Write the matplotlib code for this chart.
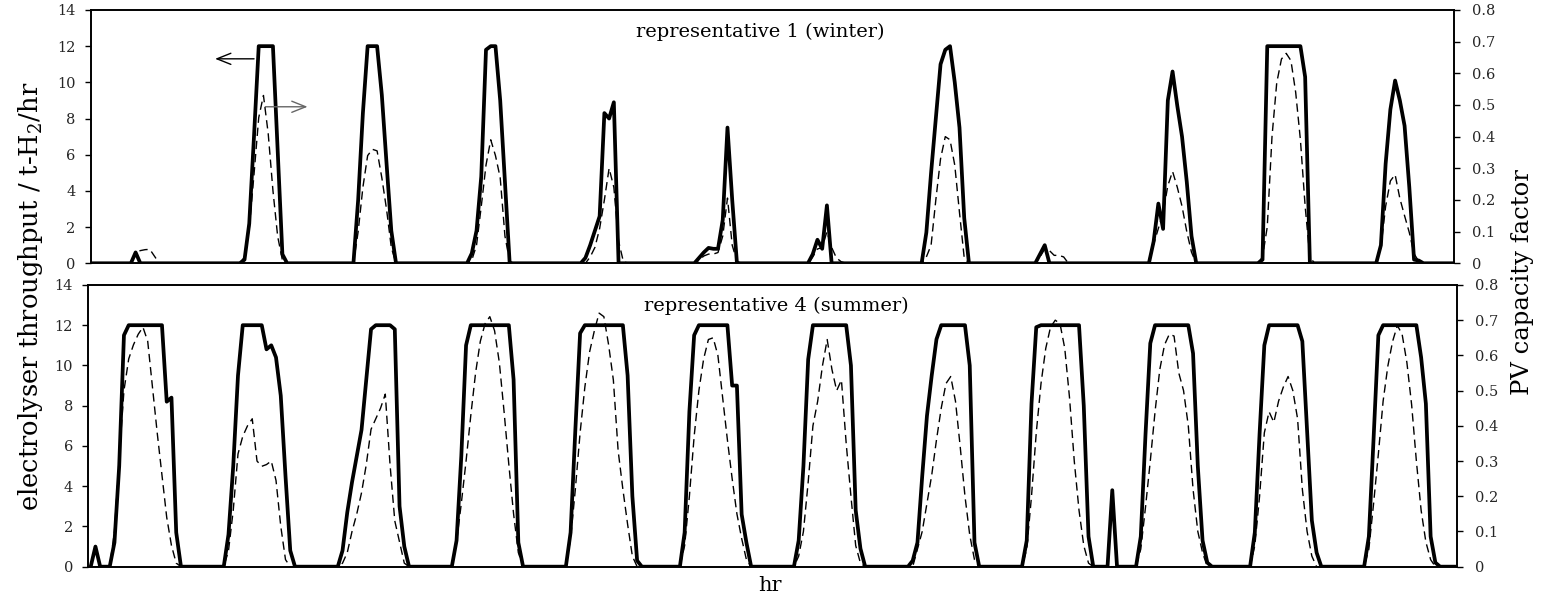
import numpy as np
import matplotlib
matplotlib.use("Agg")
import matplotlib.pyplot as plt

plt.rcParams['font.family'] = ['DejaVu Serif']
plt.rcParams['mathtext.fontset'] = 'dejavuserif'

# 12 days x 24 hours, one row per day
# representative 1 (winter): electrolyser throughput [t-H2/hr]
el_winter = [
    [0, 0, 0, 0, 0, 0, 0, 0, 0, 0.6, 0, 0, 0, 0, 0, 0, 0, 0, 0, 0, 0, 0, 0, 0],
    [0, 0, 0, 0, 0, 0, 0, 0, 0.2, 2.2, 7, 12, 12, 12, 12, 6.3, 0.5, 0, 0, 0, 0, 0, 0, 0],
    [0, 0, 0, 0, 0, 0, 0, 0, 3.5, 8.3, 12, 12, 12, 9.3, 5.5, 1.8, 0, 0, 0, 0, 0, 0, 0, 0],
    [0, 0, 0, 0, 0, 0, 0, 0, 0.55, 1.8, 4.8, 11.8, 12, 12, 9, 4.5, 0, 0, 0, 0, 0, 0, 0, 0],
    [0, 0, 0, 0, 0, 0, 0, 0, 0.3, 1, 1.8, 2.6, 8.3, 8, 8.9, 0, 0, 0, 0, 0, 0, 0, 0, 0],
    [0, 0, 0, 0, 0, 0, 0, 0, 0.3, 0.6, 0.85, 0.8, 0.8, 2.4, 7.5, 3.5, 0, 0, 0, 0, 0, 0, 0, 0],
    [0, 0, 0, 0, 0, 0, 0, 0, 0.5, 1.3, 0.8, 3.2, 0, 0, 0, 0, 0, 0, 0, 0, 0, 0, 0, 0],
    [0, 0, 0, 0, 0, 0, 0, 0, 1.7, 5, 8, 11, 11.8, 12, 10, 7.5, 2.5, 0, 0, 0, 0, 0, 0, 0],
    [0, 0, 0, 0, 0, 0, 0, 0, 0.5, 1, 0, 0, 0, 0, 0, 0, 0, 0, 0, 0, 0, 0, 0, 0],
    [0, 0, 0, 0, 0, 0, 0, 0, 1.2, 3.3, 1.9, 9, 10.6, 8.7, 7, 4.5, 1.5, 0, 0, 0, 0, 0, 0, 0],
    [0, 0, 0, 0, 0, 0, 0, 0.2, 12, 12, 12, 12, 12, 12, 12, 12, 10.3, 0, 0, 0, 0, 0, 0, 0],
    [0, 0, 0, 0, 0, 0, 0, 0, 1, 5.5, 8.5, 10.1, 9, 7.6, 4.2, 0.2, 0.15, 0, 0, 0, 0, 0, 0, 0],
]
# representative 1 (winter): PV capacity factor
pv_winter = [
    [0, 0, 0, 0, 0, 0, 0, 0, 0.005, 0.035, 0.04, 0.043, 0.044, 0.022, 0, 0, 0, 0, 0, 0, 0, 0, 0, 0],
    [0, 0, 0, 0, 0, 0, 0, 0, 0.02, 0.11, 0.28, 0.46, 0.53, 0.41, 0.23, 0.085, 0.01, 0, 0, 0, 0, 0, 0, 0],
    [0, 0, 0, 0, 0, 0, 0, 0, 0.1, 0.24, 0.34, 0.36, 0.355, 0.27, 0.17, 0.05, 0, 0, 0, 0, 0, 0, 0, 0],
    [0, 0, 0, 0, 0, 0, 0, 0, 0.01, 0.057, 0.18, 0.31, 0.39, 0.34, 0.27, 0.086, 0.006, 0, 0, 0, 0, 0, 0, 0],
    [0, 0, 0, 0, 0, 0, 0, 0, 0, 0.02, 0.05, 0.11, 0.2, 0.3, 0.24, 0.07, 0.006, 0, 0, 0, 0, 0, 0, 0],
    [0, 0, 0, 0, 0, 0, 0, 0, 0.01, 0.023, 0.029, 0.029, 0.034, 0.086, 0.206, 0.057, 0.006, 0, 0, 0, 0, 0, 0, 0],
    [0, 0, 0, 0, 0, 0, 0, 0, 0.02, 0.045, 0.05, 0.1, 0.05, 0.017, 0.005, 0, 0, 0, 0, 0, 0, 0, 0, 0],
    [0, 0, 0, 0, 0, 0, 0, 0, 0.02, 0.057, 0.2, 0.33, 0.4, 0.39, 0.31, 0.16, 0.017, 0, 0, 0, 0, 0, 0, 0],
    [0, 0, 0, 0, 0, 0, 0, 0, 0.02, 0.045, 0.04, 0.025, 0.025, 0.02, 0, 0, 0, 0, 0, 0, 0, 0, 0, 0],
    [0, 0, 0, 0, 0, 0, 0, 0.01, 0.06, 0.11, 0.16, 0.245, 0.29, 0.24, 0.18, 0.1, 0.035, 0, 0, 0, 0, 0, 0, 0],
    [0, 0, 0, 0, 0, 0, 0, 0.02, 0.115, 0.4, 0.57, 0.645, 0.663, 0.64, 0.54, 0.39, 0.18, 0.02, 0, 0, 0, 0, 0, 0],
    [0, 0, 0, 0, 0, 0, 0, 0, 0.05, 0.18, 0.26, 0.28, 0.205, 0.15, 0.097, 0.03, 0.006, 0, 0, 0, 0, 0, 0, 0],
]
# representative 4 (summer): electrolyser throughput [t-H2/hr]
el_summer = [
    [0, 1, 0, 0, 0, 1.2, 5, 11.5, 12, 12, 12, 12, 12, 12, 12, 12, 8.2, 8.4, 1.7, 0, 0, 0, 0, 0],
    [0, 0, 0, 0, 0, 1.6, 5, 9.5, 12, 12, 12, 12, 12, 10.8, 11, 10.4, 8.5, 4.5, 0.8, 0, 0, 0, 0, 0],
    [0, 0, 0, 0, 0, 0.8, 2.7, 4.2, 5.5, 6.8, 9.3, 11.8, 12, 12, 12, 12, 11.8, 3, 1, 0, 0, 0, 0, 0],
    [0, 0, 0, 0, 0, 1.3, 5.5, 11, 12, 12, 12, 12, 12, 12, 12, 12, 12, 9.3, 1.2, 0, 0, 0, 0, 0],
    [0, 0, 0, 0, 0, 1.7, 6.8, 11.6, 12, 12, 12, 12, 12, 12, 12, 12, 12, 9.5, 3.5, 0.3, 0, 0, 0, 0],
    [0, 0, 0, 0, 0, 1.7, 7.7, 11.5, 12, 12, 12, 12, 12, 12, 12, 9, 9, 2.6, 1.2, 0, 0, 0, 0, 0],
    [0, 0, 0, 0, 0, 1.3, 5, 10.3, 12, 12, 12, 12, 12, 12, 12, 12, 10, 2.8, 0.9, 0, 0, 0, 0, 0],
    [0, 0, 0, 0, 0, 0.3, 1.2, 4.5, 7.5, 9.5, 11.3, 12, 12, 12, 12, 12, 12, 10, 1.2, 0, 0, 0, 0, 0],
    [0, 0, 0, 0, 0, 1.3, 8.1, 11.9, 12, 12, 12, 12, 12, 12, 12, 12, 12, 8, 1.5, 0, 0, 0, 0, 3.8],
    [0, 0, 0, 0, 0, 1.5, 6.6, 11.1, 12, 12, 12, 12, 12, 12, 12, 12, 10.6, 5, 1.3, 0.2, 0, 0, 0, 0],
    [0, 0, 0, 0, 0, 1.7, 6.6, 11, 12, 12, 12, 12, 12, 12, 12, 11.2, 6.8, 2.3, 0.7, 0, 0, 0, 0, 0],
    [0, 0, 0, 0, 0, 1.5, 6.4, 11.5, 12, 12, 12, 12, 12, 12, 12, 12, 10.4, 8.1, 1.5, 0.2, 0, 0, 0, 0],
]
# representative 4 (summer): PV capacity factor
pv_summer = [
    [0, 0, 0, 0, 0, 0.1, 0.31, 0.5, 0.59, 0.63, 0.66, 0.68, 0.64, 0.51, 0.38, 0.26, 0.14, 0.06, 0.01, 0, 0, 0, 0, 0],
    [0, 0, 0, 0, 0, 0.045, 0.16, 0.32, 0.37, 0.4, 0.42, 0.3, 0.285, 0.29, 0.3, 0.245, 0.115, 0.02, 0, 0, 0, 0, 0, 0],
    [0, 0, 0, 0, 0, 0.01, 0.04, 0.1, 0.15, 0.21, 0.29, 0.39, 0.42, 0.45, 0.49, 0.29, 0.13, 0.07, 0.01, 0, 0, 0, 0, 0],
    [0, 0, 0, 0, 0, 0.07, 0.18, 0.3, 0.43, 0.55, 0.64, 0.69, 0.71, 0.67, 0.58, 0.44, 0.29, 0.15, 0.04, 0, 0, 0, 0, 0],
    [0, 0, 0, 0, 0, 0.08, 0.22, 0.38, 0.51, 0.61, 0.67, 0.72, 0.71, 0.63, 0.53, 0.33, 0.22, 0.12, 0.03, 0, 0, 0, 0, 0],
    [0, 0, 0, 0, 0, 0.06, 0.2, 0.37, 0.5, 0.59, 0.645, 0.65, 0.6, 0.48, 0.36, 0.25, 0.15, 0.08, 0.02, 0, 0, 0, 0, 0],
    [0, 0, 0, 0, 0, 0.03, 0.1, 0.24, 0.4, 0.47, 0.57, 0.645, 0.56, 0.5, 0.53, 0.35, 0.2, 0.06, 0.01, 0, 0, 0, 0, 0],
    [0, 0, 0, 0, 0, 0, 0.05, 0.1, 0.18, 0.26, 0.36, 0.45, 0.52, 0.54, 0.47, 0.34, 0.2, 0.09, 0.02, 0, 0, 0, 0, 0],
    [0, 0, 0, 0, 0, 0.05, 0.2, 0.38, 0.52, 0.62, 0.68, 0.7, 0.69, 0.62, 0.48, 0.3, 0.16, 0.06, 0.01, 0, 0, 0, 0, 0],
    [0, 0, 0, 0, 0, 0.05, 0.17, 0.3, 0.44, 0.56, 0.63, 0.66, 0.655, 0.55, 0.5, 0.4, 0.22, 0.1, 0.04, 0, 0, 0, 0, 0],
    [0, 0, 0, 0, 0, 0.06, 0.2, 0.38, 0.44, 0.41, 0.47, 0.51, 0.54, 0.5, 0.42, 0.22, 0.1, 0.03, 0, 0, 0, 0, 0, 0],
    [0, 0, 0, 0, 0, 0.05, 0.18, 0.32, 0.47, 0.57, 0.64, 0.685, 0.66, 0.58, 0.46, 0.3, 0.16, 0.07, 0.02, 0, 0, 0, 0, 0],
]

left_ticks = [0, 2, 4, 6, 8, 10, 12, 14]
right_ticks = [0, 0.1, 0.2, 0.3, 0.4, 0.5, 0.6, 0.7, 0.8]
right_labels = ["0", "0.1", "0.2", "0.3", "0.4", "0.5", "0.6", "0.7", "0.8"]

fig = plt.figure(figsize=(15.44, 5.97), dpi=100)
ax_top = fig.add_axes([0.0587, 0.559, 0.8832, 0.4243])
ax_bot = fig.add_axes([0.0572, 0.0508, 0.8863, 0.4719])

panels = [
    (ax_top, el_winter, pv_winter, "representative 1 (winter)", 0.491, 0.913),
    (ax_bot, el_summer, pv_summer, "representative 4 (summer)", 0.503, 0.926),
]

for ax, el, pv, title, tx, ty in panels:
    el = np.concatenate(el)
    pv = np.concatenate(pv)
    hours = np.arange(len(el))
    ax.plot(hours, el, color="black", lw=2.7)
    axr = ax.twinx()
    axr.plot(hours, pv, color="black", lw=1.0, dashes=(6, 3.5))
    ax.set_xlim(-0.5, len(el) - 0.5)
    ax.set_ylim(0, 14)
    axr.set_ylim(0, 0.8)
    ax.set_xticks([])
    ax.set_yticks(left_ticks)
    axr.set_yticks(right_ticks)
    axr.set_yticklabels(right_labels)
    ax.tick_params(axis="y", direction="out", length=4, width=1, labelsize=10.5, pad=7,
                   labelcolor="0.15")
    axr.tick_params(axis="y", direction="out", length=4, width=1, labelsize=10.5, pad=9,
                    labelcolor="0.15")
    for a in (ax, axr):
        for s in a.spines.values():
            s.set_linewidth(1.2)
    ax.text(tx, ty, title, transform=ax.transAxes, ha="center", va="center", fontsize=14)

# arrows pointing at the matching axis
ax_top.annotate("", xy=(25.2, 11.3), xytext=(34.6, 11.3),
                arrowprops=dict(arrowstyle="->,head_length=1.0,head_width=0.4", color="black", lw=1))
ax_top.annotate("", xy=(45.9, 8.65), xytext=(35.8, 8.65),
                arrowprops=dict(arrowstyle="->,head_length=1.0,head_width=0.4", color="0.4", lw=1))

fig.text(0.0195, 0.504, "electrolyser throughput / t-H$_2$/hr", rotation=90,
         ha="center", va="center", fontsize=18.5)
fig.text(0.9858, 0.528, "PV capacity factor", rotation=90, ha="center", va="center", fontsize=17.5)
fig.text(0.4987, 0.02, "hr", ha="center", va="center", fontsize=15)

fig.savefig("out.png", dpi=100)
